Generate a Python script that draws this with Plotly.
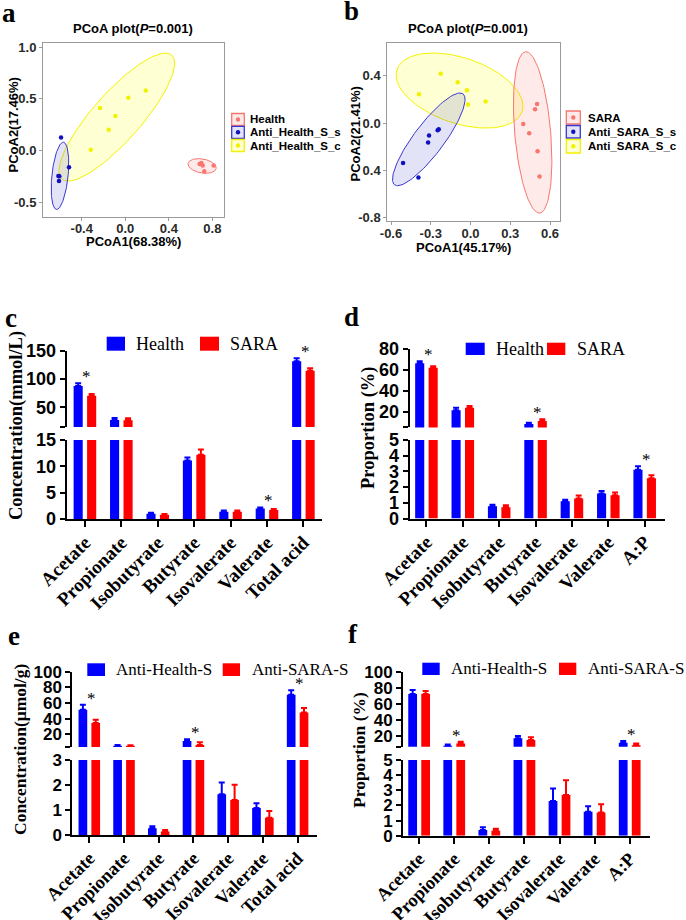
import numpy as np
import plotly.graph_objects as go

W, H = 686, 920

# ---------------- data ----------------
# Panel a (PCoA)
a_health_x = [0.683, 0.699, 0.711, 0.812, 0.726]
a_health_y = [-0.13, -0.12, -0.146, -0.146, -0.20]
a_s_x = [-0.59, -0.517, -0.615, -0.606, -0.609]
a_s_y = [0.126, -0.162, -0.246, -0.25, -0.294]
a_c_x = [-0.317, -0.232, -0.152, -0.091, 0.028, 0.188]
a_c_y = [0.006, 0.41, 0.2, 0.333, 0.51, 0.58]
# ellipse: centre x, centre y, semi-axis 1 (dx, dy), semi-axis 2 (dx, dy)
a_ell_health = [0.706, -0.15, 0.129, -0.024, -0.011, -0.067]
a_ell_s = [-0.60, -0.245, 0.032, 0.325, 0.074, -0.008]
a_ell_c = [-0.078, 0.323, 0.505, 0.599, 0.165, -0.155]

# Panel b (PCoA)
b_sara_x = [0.502, 0.487, 0.398, 0.443, 0.506, 0.521]
b_sara_y = [0.163, 0.118, -0.008, -0.085, -0.237, -0.451]
b_s_x = [-0.24, -0.248, -0.313, -0.32, -0.509, -0.393]
b_s_y = [-0.051, -0.059, -0.105, -0.164, -0.338, -0.46]
b_c_x = [-0.225, -0.389, -0.097, -0.027, -0.019, 0.114]
b_c_y = [0.419, 0.245, 0.347, 0.279, 0.157, 0.183]
b_ell_sara = [0.469, -0.078, -0.053, 0.683, 0.135, 0.013]
b_ell_s = [-0.315, -0.137, 0.258, 0.385, 0.091, -0.076]
b_ell_c = [-0.083, 0.276, 0.472, -0.178, -0.079, -0.263]

# Panel c
cats_c = ["Acetate", "Propionate", "Isobutyrate", "Butyrate", "Isovalerate", "Valerate", "Total acid"]
c_health = [87.8, 27.5, 1.0, 11.1, 1.4, 2.0, 132.0]
c_health_err = [4.7, 3.5, 0.2, 0.6, 0.2, 0.2, 5.0]
c_sara = [70.6, 27.0, 0.8, 12.2, 1.4, 1.7, 115.0]
c_sara_err = [3.0, 3.5, 0.15, 1.0, 0.2, 0.2, 4.5]
c_stars = ["Acetate", "Valerate", "Total acid"]

# Panel d
cats_d = ["Acetate", "Propionate", "Isobutyrate", "Butyrate", "Isovalerate", "Valerate", "A:P"]
d_health = [66.3, 21.5, 0.78, 8.2, 1.1, 1.6, 3.1]
d_health_err = [1.9, 2.2, 0.1, 1.2, 0.1, 0.15, 0.23]
d_sara = [62.0, 23.7, 0.72, 11.1, 1.27, 1.48, 2.57]
d_sara_err = [1.5, 1.7, 0.13, 1.6, 0.2, 0.18, 0.18]
d_stars = ["Acetate", "Butyrate", "A:P"]

# Panel e
cats_e = ["Acetate", "Propionate", "Isobutyrate", "Butyrate", "Isovalerate", "Valerate", "Total acid"]
e_h = [51.5, 5.5, 0.28, 11.4, 1.64, 1.09, 70.7]
e_h_err = [6.4, 0.8, 0.08, 2.2, 0.46, 0.19, 5.5]
e_s = [34.5, 5.3, 0.15, 6.3, 1.41, 0.7, 48.0]
e_s_err = [4.2, 0.8, 0.06, 3.5, 0.6, 0.27, 5.7]
e_stars = ["Acetate", "Butyrate", "Total acid"]

# Panel f
cats_f = ["Acetate", "Propionate", "Isobutyrate", "Butyrate", "Isovalerate", "Valerate", "A:P"]
f_h = [72.0, 7.3, 0.38, 16.7, 2.3, 1.58, 11.1]
f_h_err = [5.0, 1.8, 0.17, 2.9, 0.82, 0.37, 2.2]
f_s = [72.0, 10.4, 0.33, 14.6, 2.68, 1.54, 8.2]
f_s_err = [4.0, 2.0, 0.13, 3.4, 0.98, 0.54, 2.2]
f_stars = ["Propionate", "A:P"]

# ---------------- styling ----------------
SANS = "Liberation Sans"
SERIF = "Liberation Serif"
BLUE = "#0000FF"
RED = "#FF0000"
PC_RED = "#F8766D"
PC_BLUE = "#1010C0"
PC_YEL = "#F2F200"

fig = go.Figure()
shapes = []
annos = []


def px_x(x):
    return x / W


def px_y(y):
    return 1 - y / H


def dom_x(x0, x1):
    return [x0 / W, x1 / W]


def dom_y(top, bottom):
    return [1 - bottom / H, 1 - top / H]


def text(x, y, s, size, family=SANS, bold=False, xanchor="center", yanchor="middle", angle=0, color="black"):
    annos.append(dict(x=px_x(x), y=px_y(y), xref="paper", yref="paper", text=s, showarrow=False,
                      xanchor=xanchor, yanchor=yanchor, textangle=angle,
                      font=dict(family=family, size=size, color=color, weight="bold" if bold else "normal")))


def ellipse(p, xa, ya, line, fill):
    t = np.linspace(0, 2 * np.pi, 120)
    ex = p[0] + p[2] * np.cos(t) + p[4] * np.sin(t)
    ey = p[1] + p[3] * np.cos(t) + p[5] * np.sin(t)
    fig.add_trace(go.Scatter(x=ex, y=ey, mode="lines", fill="toself", fillcolor=fill,
                             line=dict(color=line, width=1), xaxis=xa, yaxis=ya,
                             showlegend=False, hoverinfo="skip"))


def points(xs, ys, color, xa, ya):
    fig.add_trace(go.Scatter(x=xs, y=ys, mode="markers", marker=dict(color=color, size=4.5),
                             xaxis=xa, yaxis=ya, showlegend=False))


# ---- Panel a ----
ellipse(a_ell_c, "x", "y", PC_YEL, "rgba(255,255,0,0.17)")
ellipse(a_ell_s, "x", "y", "#3838D0", "rgba(70,70,200,0.15)")
ellipse(a_ell_health, "x", "y", PC_RED, "rgba(248,118,109,0.15)")
points(a_c_x, a_c_y, PC_YEL, "x", "y")
points(a_s_x, a_s_y, PC_BLUE, "x", "y")
points(a_health_x, a_health_y, PC_RED, "x", "y")

# ---- Panel b ----
ellipse(b_ell_c, "x2", "y2", PC_YEL, "rgba(255,255,0,0.17)")
ellipse(b_ell_s, "x2", "y2", "#3838D0", "rgba(70,70,200,0.15)")
ellipse(b_ell_sara, "x2", "y2", PC_RED, "rgba(248,118,109,0.15)")
points(b_c_x, b_c_y, PC_YEL, "x2", "y2")
points(b_s_x, b_s_y, PC_BLUE, "x2", "y2")
points(b_sara_x, b_sara_y, PC_RED, "x2", "y2")

pc_axis = dict(showline=True, mirror=True, linecolor="#9a9a9a", linewidth=1, ticks="outside",
               ticklen=3, tickcolor="#9a9a9a", showgrid=False, zeroline=False, automargin=False,
               tickfont=dict(family=SANS, size=13, color="#2a2a2a", weight="bold"))

layout_axes = {}
layout_axes["xaxis"] = dict(pc_axis, domain=dom_x(43, 224), range=[-0.756, 0.907], anchor="y",
                            ticklabelstandoff=-4,
                            tickvals=[-0.4, 0.0, 0.4, 0.8], ticktext=["-0.4", "0.0", "0.4", "0.8"])
layout_axes["yaxis"] = dict(pc_axis, domain=dom_y(43, 217), range=[-0.643, 1.039], anchor="x",
                            tickvals=[-0.5, 0.0, 0.5, 1.0], ticktext=["-0.5", "0.0", "0.5", "1.0"])
layout_axes["xaxis2"] = dict(pc_axis, domain=dom_x(387.3, 559.7), range=[-0.628, 0.673], anchor="y2",
                             ticklabelstandoff=-3,
                             tickvals=[-0.6, -0.3, 0.0, 0.3, 0.6], ticktext=["-0.6", "-0.3", "0.0", "0.3", "0.6"])
layout_axes["yaxis2"] = dict(pc_axis, domain=dom_y(42.7, 221), range=[-0.828, 0.681], anchor="x2",
                             tickvals=[-0.8, -0.4, 0.0, 0.4], ticktext=["-0.8", "0.4", "0.0", "0.4"])

# PCoA titles / axis labels
text(132.5, 28.5, "PCoA plot(<i>P</i>=0.001)", 13, bold=True)
text(133, 242, "PCoA1(68.38%)", 13, bold=True)
text(12.5, 125, "PCoA2(17.46%)", 13, bold=True, angle=-90)
text(468, 29, "PCoA plot(<i>P</i>=0.001)", 13, bold=True)
text(464, 247, "PCoA1(45.17%)", 13, bold=True)
text(355.5, 134, "PCoA2(21.41%)", 13, bold=True, angle=-90)


# PCoA legends
def pc_legend(x0, x1, rows, tx, size):
    for (y0, y1, lc, fc, dc, lab) in rows:
        shapes.append(dict(type="rect", xref="paper", yref="paper", x0=px_x(x0), x1=px_x(x1),
                           y0=px_y(y1), y1=px_y(y0), line=dict(color=lc, width=1.3), fillcolor=fc))
        cx, cy = (x0 + x1) / 2, (y0 + y1) / 2
        shapes.append(dict(type="circle", xref="paper", yref="paper", x0=px_x(cx - 2.2), x1=px_x(cx + 2.2),
                           y0=px_y(cy + 2.2), y1=px_y(cy - 2.2), line=dict(width=0), fillcolor=dc))
        text(tx, cy, lab, size, bold=True, xanchor="left")


pc_legend(231.7, 244.3, [
    (113.5, 125.5, PC_RED, "rgba(248,118,109,0.15)", PC_RED, "Health"),
    (126.3, 138.3, "#3838D0", "rgba(70,70,200,0.15)", PC_BLUE, "Anti_Health_S_s"),
    (139.5, 151.5, PC_YEL, "rgba(255,255,0,0.17)", PC_YEL, "Anti_Health_S_c"),
], 248, 11.5)
pc_legend(566.3, 580.3, [
    (111, 124, PC_RED, "rgba(248,118,109,0.15)", PC_RED, "SARA"),
    (125.5, 138, "#3838D0", "rgba(70,70,200,0.15)", PC_BLUE, "Anti_SARA_S_s"),
    (139.5, 153, PC_YEL, "rgba(255,255,0,0.17)", PC_YEL, "Anti_SARA_S_c"),
], 585.7, 11.5)


# ---- bar panels ----
def bar_panel(xa, yu, yl, cats, h, he, s, se, stars, lower_max):
    for vals, errs, color, off in [(h, he, BLUE, -0.31), (s, se, RED, 0.06)]:
        for ya in (yu, yl):
            fig.add_trace(go.Bar(x=cats, y=vals, xaxis=xa, yaxis=ya, marker=dict(color=color, line=dict(width=0)),
                                 width=0.25, offset=off,
                                 error_y=dict(type="data", symmetric=False, array=errs,
                                              arrayminus=[0] * len(errs), color=color, thickness=2, width=3),
                                 showlegend=False))
    for cat in stars:
        i = cats.index(cat)
        top = max(h[i] + he[i], s[i] + se[i])
        ya = yu if top > lower_max else yl
        annos.append(dict(x=cat, y=top, xref=xa, yref=ya, text="*", showarrow=False, yanchor="bottom",
                          yshift=-5, xshift=2, font=dict(family=SERIF, size=17, color="black")))


bar_panel("x3", "y3", "y4", cats_c, c_health, c_health_err, c_sara, c_sara_err, c_stars, 15)
bar_panel("x4", "y5", "y6", cats_d, d_health, d_health_err, d_sara, d_sara_err, d_stars, 5)
bar_panel("x5", "y7", "y8", cats_e, e_h, e_h_err, e_s, e_s_err, e_stars, 3)
bar_panel("x6", "y9", "y10", cats_f, f_h, f_h_err, f_s, f_s_err, f_stars, 5)


def xcat(domain, rng, anchor, cats, fs):
    return dict(domain=domain, range=rng, anchor=anchor, type="category", categoryorder="array",
                categoryarray=cats, showline=True, linecolor="black", linewidth=2, ticks="outside",
                ticklen=6, tickwidth=2, tickcolor="black", tickangle=-45, showgrid=False, zeroline=False,
                automargin=False, ticklabelstandoff=-3,
                tickfont=dict(family=SERIF, size=fs, color="black", weight="bold"))


def ybar(domain, rng, anchor, tv, tt, fs):
    return dict(domain=domain, range=rng, anchor=anchor, showline=True, linecolor="black", linewidth=2,
                ticks="outside", ticklen=5, tickwidth=2, tickcolor="black", showgrid=False, zeroline=False,
                automargin=False, tickvals=tv, ticktext=tt,
                tickfont=dict(family=SANS, size=fs, color="black", weight="bold"))


layout_axes["xaxis3"] = xcat(dom_x(66.7, 321.6), [-0.5, 6.5], "y4", cats_c, 19)
layout_axes["yaxis3"] = ybar(dom_y(351, 427), [15, 150], "x3", [15, 50, 100, 150], ["", "50", "100", "150"], 18)
layout_axes["yaxis4"] = ybar(dom_y(440, 519), [0, 15], "x3", [0, 5, 10, 15], ["0", "5", "10", "15"], 18)

layout_axes["xaxis4"] = xcat(dom_x(409.7, 664.7), [-0.46, 6.55], "y6", cats_d, 19)
layout_axes["yaxis5"] = ybar(dom_y(349, 427.4), [5, 80], "x4", [5, 20, 40, 60, 80], ["", "20", "40", "60", "80"], 18)
layout_axes["yaxis6"] = ybar(dom_y(440, 518.5), [0, 5], "x4", [0, 1, 2, 3, 4, 5], ["0", "1", "2", "3", "4", "5"], 18)

layout_axes["xaxis5"] = xcat(dom_x(72.3, 316.7), [-0.49, 6.55], "y8", cats_e, 18.5)
layout_axes["yaxis7"] = ybar(dom_y(671.7, 747), [3.8, 100], "x5", [3.8, 20, 40, 60, 80, 100],
                             ["", "20", "40", "60", "80", "100"], 17)
layout_axes["yaxis8"] = ybar(dom_y(760, 835.3), [0, 3], "x5", [0, 1, 2, 3], ["0", "1", "2", "3"], 17)

layout_axes["xaxis6"] = xcat(dom_x(403, 649.7), [-0.46, 6.57], "y10", cats_f, 18.5)
layout_axes["yaxis9"] = ybar(dom_y(671.7, 746.7), [6.25, 100], "x6", [6.25, 20, 40, 60, 80, 100],
                             ["", "20", "40", "60", "80", "100"], 17)
layout_axes["yaxis10"] = ybar(dom_y(760, 835.7), [0, 5], "x6", [0, 1, 2, 3, 4, 5], ["0", "1", "2", "3", "4", "5"], 17)

# y-axis titles of bar panels
text(16, 426, "Concentration(mmol/L)", 18.5, family=SERIF, bold=True, angle=-90)
text(368, 428, "Proportion (%)", 18.5, family=SERIF, bold=True, angle=-90)
text(20, 750, "Concentration(μmol/g)", 17.5, family=SERIF, bold=True, angle=-90)
text(359, 750, "Proportion (%)", 17.5, family=SERIF, bold=True, angle=-90)


# bar legends
def bar_legend(items, y0, y1, size):
    for (x0, x1, color, tx, lab) in items:
        shapes.append(dict(type="rect", xref="paper", yref="paper", x0=px_x(x0), x1=px_x(x1),
                           y0=px_y(y1), y1=px_y(y0), line=dict(width=0), fillcolor=color))
        text(tx, (y0 + y1) / 2, lab, size, family=SERIF, xanchor="left")


bar_legend([(106.7, 125, BLUE, 134, "Health"), (200, 219, RED, 228, "SARA")], 336.7, 350.7, 18)
bar_legend([(465.7, 484.7, BLUE, 493.7, "Health"), (547, 565.3, RED, 574.7, "SARA")], 342.7, 355, 18)
bar_legend([(87.3, 105, BLUE, 114.3, "Anti-Health-S"), (222.7, 240, RED, 250, "Anti-SARA-S")], 663.3, 676, 17)
bar_legend([(422.3, 439.7, BLUE, 449, "Anti-Health-S"), (559, 576.3, RED, 586.3, "Anti-SARA-S")], 662.7, 675, 17)

# panel letters
for lab, x, y in [("a", 0, 13), ("b", 342, 11), ("c", 3, 318), ("d", 342, 317), ("e", 6, 636), ("f", 346, 634)]:
    text(x, y, lab, 27, family=SERIF, bold=True, xanchor="left")

fig.update_layout(template="none", width=W, height=H, margin=dict(l=0, r=0, t=0, b=0, autoexpand=False),
                  paper_bgcolor="white", plot_bgcolor="white", barmode="overlay", showlegend=False,
                  shapes=shapes, annotations=annos, **layout_axes)

fig.write_html("out.html", config={"displayModeBar": False, "staticPlot": True},
               post_script="document.body.style.margin='0px';document.body.style.overflow='hidden';")
